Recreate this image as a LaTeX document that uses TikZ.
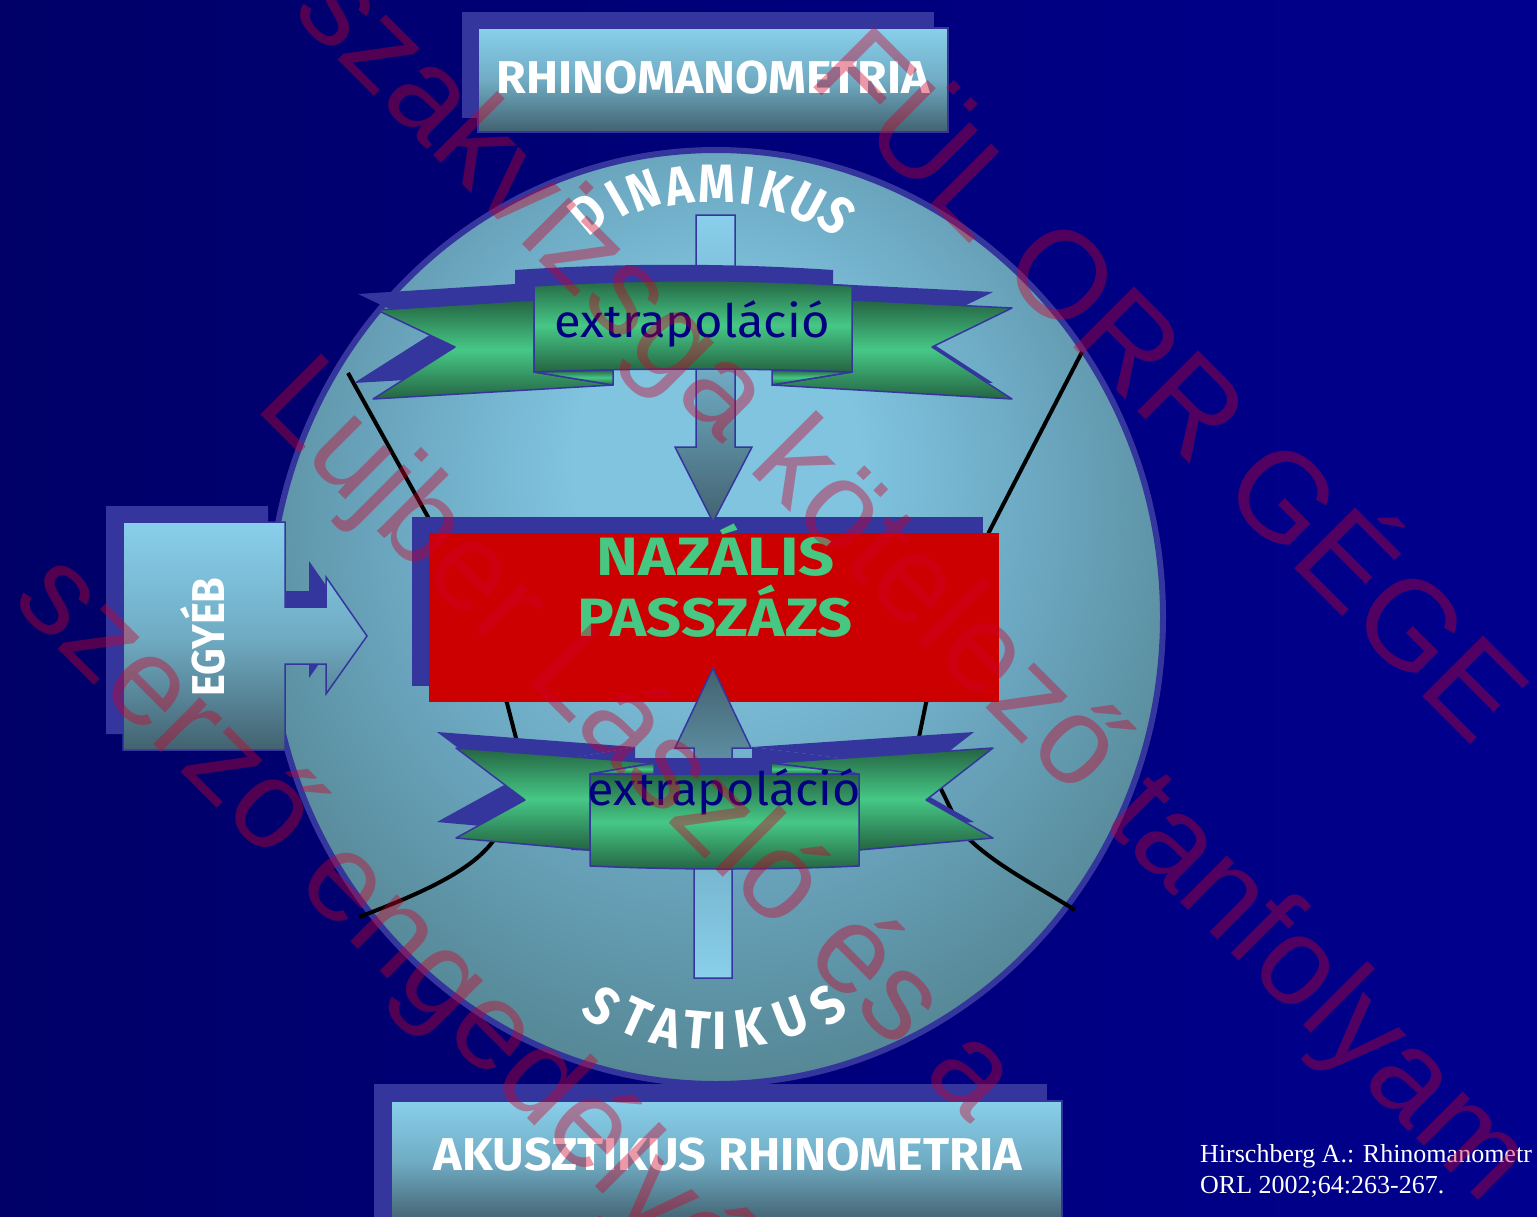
\documentclass[tikz,border=0pt]{standalone}
\usepackage{fontspec}
\usepackage{graphicx}
\newfontfamily\labelfont{Fira Sans}
\newfontfamily\markfont{Liberation Sans}
\newfontfamily\citefont{Liberation Serif}

\definecolor{navyL}{RGB}{0,0,104}
\definecolor{navyR}{RGB}{0,0,142}
\definecolor{edge}{RGB}{53,53,158}
\definecolor{skylite}{RGB}{137,207,235}
\definecolor{skymid}{RGB}{112,172,196}
\definecolor{slate}{RGB}{66,98,112}
\definecolor{gdark}{RGB}{36,100,66}
\definecolor{gbright}{RGB}{70,200,134}
\definecolor{discL}{RGB}{128,196,224}
\definecolor{discM}{RGB}{104,162,186}
\definecolor{discD}{RGB}{86,136,150}
\definecolor{boxred}{RGB}{204,0,0}
\definecolor{passgreen}{RGB}{70,200,130}
\definecolor{inkblue}{RGB}{0,0,128}
\definecolor{stamp}{RGB}{205,0,40}

\pgfdeclareradialshading{disc}{\pgfpoint{0bp}{10bp}}{color(0bp)=(discL); color(8bp)=(discL); color(20bp)=(discM); color(29bp)=(discD); color(50bp)=(discD)}

% stretch a label horizontally to a given width, keeping its height
\newcommand{\fitw}[2]{\resizebox{#1}{\height}{#2}}

\begin{document}
\begin{tikzpicture}[x=1pt,y=-1pt,
  edgefill/.style={fill=edge, draw=none},
  skybox/.style={draw=edge, line width=1.5pt, top color=skylite, bottom color=slate, middle color=skymid},
  ribbonpart/.style={draw=edge, line width=1.5pt, line join=round, top color=gdark, bottom color=gdark, middle color=gbright},
  pointer down/.style={draw=edge, line width=1.5pt, top color=skylite, bottom color=slate, middle color=skymid},
  pointer up/.style={draw=edge, line width=1.5pt, top color=slate, bottom color=skylite, middle color=skymid},
  nasal/.style={line width=4pt, black, line join=round},
  capsword/.style={font=\labelfont\bfseries\fontsize{46}{50}\selectfont, text=white, inner sep=0pt},
  ribbonword/.style={font=\labelfont\fontsize{46}{50}\selectfont, text=inkblue, inner sep=0pt},
  password/.style={font=\labelfont\bfseries\fontsize{54}{60}\selectfont, text=passgreen, inner sep=0pt},
  arcletter/.style={font=\labelfont\bfseries\fontsize{54}{60}\selectfont, text=white, inner sep=0pt},
  stampword/.style={font=\markfont\fontsize{125}{125}\selectfont, text=stamp, text opacity=0.4, inner sep=0pt, anchor=base west, rotate=-45},
  citeword/.style={font=\citefont\fontsize{26}{28}\selectfont, text=white, inner sep=0pt, anchor=base west}]

\useasboundingbox (0,0) rectangle (1537,1216);
\clip (0,0) rectangle (1537,1216);

% background
\shade[left color=navyL, right color=navyR] (0,0) rectangle (1537,1216);

% top method box
\fill[edge] (462,12) rectangle (934,118);
\draw[skybox] (478,28) rectangle (948,132);
\node[capsword, anchor=base] (rhino) at (713,93) {\fitw{433pt}{RHINOMANOMETRIA}};

% the large disc
\shade[shading=disc] (716,617) ellipse [x radius=447, y radius=467];
\draw[edge, line width=6pt] (716,617) ellipse [x radius=447, y radius=467];

% nasal cavity outline
\draw[nasal] (348,373) -- (428,517) -- (507,703) -- (517,742) -- (497,835)
  .. controls (478,868) and (425,892) .. (359,917);
\draw[nasal] (1082,352) -- (989,532) -- (926,703) -- (918,742) -- (962,832)
  .. controls (990,862) and (1030,882) .. (1075,910);

% central red box
\fill[edge] (412,517) rectangle (983,686);
\fill[boxred] (429,533) rectangle (999,702);
\node[password, anchor=base] (nazalis) at (716,575) {\fitw{238pt}{NAZÁLIS}};
\node[password, anchor=base] (passzazs) at (715,636) {\fitw{275pt}{PASSZÁZS}};

% downward arrow from the dynamic side
\draw[pointer down] (696,215) -- (735,215) -- (735,447) -- (752,447) -- (713,522)
  -- (675,447) -- (696,447) -- cycle;

% upper ribbon: shadow layer, then the ribbon itself
\foreach \dx/\dy/\sty in {-19/-16/edgefill, 0/0/ribbonpart}{
  \begin{scope}[shift={(\dx,\dy)}]
    \path[\sty] (377,310) -- (534,300) -- (534,372) -- (613,385) -- (373,399) -- (455,347) -- cycle;
    \path[\sty] (1012,308) -- (852,300) -- (852,372) -- (772,385) -- (1012,399) -- (932,347) -- cycle;
    \path[\sty] (534,372) -- (613,370) -- (613,385) -- cycle;
    \path[\sty] (852,372) -- (772,370) -- (772,385) -- cycle;
    \path[\sty] (534,286) .. controls (640,279) and (746,279) .. (852,286) -- (852,372)
      .. controls (746,368) and (640,368) .. (534,372) -- cycle;
  \end{scope}
}
\node[ribbonword, anchor=base] (extraup) at (692,337) {\fitw{275pt}{extrapoláció}};

% upward arrow from the static side
\draw[pointer up] (694,978) -- (732,978) -- (732,748) -- (751,748) -- (713,668)
  -- (675,748) -- (694,748) -- cycle;

% lower ribbon: shadow layer, then the ribbon itself
\foreach \dx/\dy/\sty in {-19/-16/edgefill, 0/0/ribbonpart}{
  \begin{scope}[shift={(\dx,\dy)}]
    \path[\sty] (456,748) -- (654,763) -- (590,774) -- (590,850) -- (456,838) -- (525,800) -- cycle;
    \path[\sty] (993,748) -- (771,763) -- (859,774) -- (859,850) -- (993,838) -- (926,800) -- cycle;
    \path[\sty] (590,774) -- (654,763) -- (654,775) -- cycle;
    \path[\sty] (859,774) -- (771,763) -- (771,775) -- cycle;
    \path[\sty] (590,774) -- (859,774) -- (859,866)
      .. controls (770,870) and (680,870) .. (590,866) -- cycle;
  \end{scope}
}
\node[ribbonword, anchor=base] (extralow) at (724,805) {\fitw{273pt}{extrapoláció}};

% side box with its arrow
\foreach \dx/\dy/\sty in {-17/-16/edgefill, 0/0/skybox}{
  \path[\sty, shift={(\dx,\dy)}] (123,522) -- (285,522) -- (285,607) -- (326,607) -- (326,577)
    -- (367,636) -- (326,694) -- (326,664) -- (285,664) -- (285,750) -- (123,750) -- cycle;
}
\node[capsword, anchor=base, rotate=90] (egyeb) at (224,637) {\fitw{119pt}{EGYÉB}};

% bottom method box
\fill[edge] (374,1084) rectangle (1047,1230);
\draw[skybox] (391,1101) rectangle (1062,1222);
\node[capsword, anchor=base] (akusz) at (728,1170) {\fitw{588pt}{AKUSZTIKUS RHINOMETRIA}};

% arched captions
\foreach \ch/\x/\y/\r [count=\i] in {D/588/213/40, I/617/199/30, N/644/191/20, A/679/186/9,
    M/717/184/0, I/748/186/-7, K/776/192/-16, U/807/203/-28, S/837/215/-42}{
  \node[arcletter, rotate=\r] (din\i) at (\x,\y) {\scalebox{0.86}[1]{\ch}};
}
\foreach \ch/\x/\y/\r [count=\i] in {S/602/1006/-38, T/636/1018/-24, A/667/1027/-13, T/697/1030/-5,
    I/720/1031/0, K/750/1028/8, U/791/1018/21, S/828/1005/38}{
  \node[arcletter, rotate=\r] (stat\i) at (\x,\y) {\scalebox{0.9}[1]{\ch}};
}

% reference
\node[citeword] (cite1) at (1200,1162) {Hirschberg A.: Rhinomanometr};
\node[citeword] (cite2) at (1200,1193) {ORL 2002;64:263-267.};

% diagonal stamp text
\node[stampword] (mark1) at (806,80) {FÜL ORR GÉGE};
\node[stampword] (mark2) at (290,12) {szakvizsga kötelező tanfolyam};
\node[stampword] (mark3) at (253,407) {Lujber László és a};
\node[stampword] (mark4) at (10,601) {szerző engedélyével};
\end{tikzpicture}
\end{document}
